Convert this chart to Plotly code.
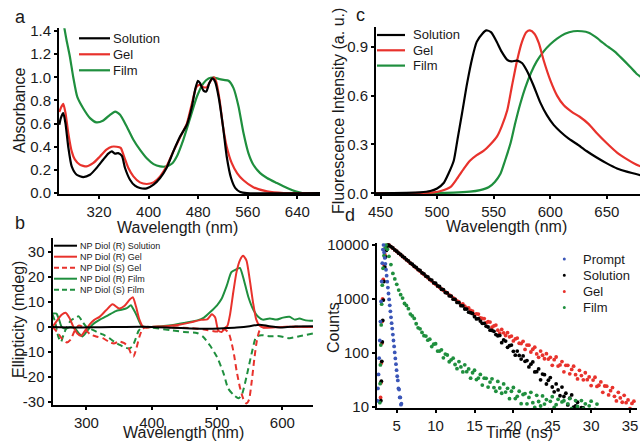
import plotly.graph_objects as go

FONT = "Liberation Sans, Arial, Helvetica, sans-serif"
W, H = 640, 441
BLACK = "#000000"
RED = "#e8322c"
GREEN = "#1f8f3e"
BLUE = "#3b56b8"
TXT = "#1a1a1a"

# ---------------- Panel a : absorbance ----------------
abs_names = ["Solution", "Gel", "Film"]
abs_sol_nm = [256, 258.6, 262.4, 266, 270.4, 276, 284, 294.7, 305.5, 316, 327, 335, 340.5, 346, 351, 357, 362, 370, 378, 386,
              397, 408, 418.6, 429, 440, 451, 461.7, 470, 475, 479.5, 483, 488.6, 493, 498, 503, 507.5, 513, 520, 526, 533,
              540, 548, 558.6, 677]
abs_sol = [0.59, 0.65, 0.69, 0.60, 0.40, 0.23, 0.158, 0.138, 0.158, 0.216, 0.29, 0.34, 0.36, 0.34, 0.345, 0.32, 0.216, 0.115, 0.063, 0.043,
           0.04, 0.072, 0.13, 0.216, 0.36, 0.49, 0.59, 0.75, 0.89, 0.97, 0.95, 0.885, 0.877, 0.95, 0.99, 0.96, 0.83, 0.575, 0.316, 0.13,
           0.043, 0.009, 0.0, 0.0]
abs_gel_nm = [256, 259.7, 262.4, 266, 270.4, 276, 281, 289, 300, 311, 321.6, 332, 340.5, 348.6, 355, 360.4, 367.4, 375.5, 386, 397,
              408, 418.6, 429, 440, 451, 461.7, 470, 477, 482, 488.6, 494, 499.4, 505, 509, 514.5, 520, 526, 534, 543, 553,
              569, 591, 618, 677]
abs_gel = [0.70, 0.75, 0.77, 0.69, 0.52, 0.36, 0.29, 0.245, 0.23, 0.26, 0.316, 0.374, 0.40, 0.40, 0.39, 0.316, 0.216, 0.144, 0.092, 0.078,
           0.092, 0.144, 0.23, 0.36, 0.483, 0.60, 0.776, 0.914, 0.934, 0.914, 0.914, 0.963, 1.0, 0.963, 0.805, 0.575, 0.40, 0.26, 0.17, 0.11,
           0.05, 0.014, 0.0, 0.0]
abs_film_nm = [264, 267.7, 273, 278.5, 285, 294.7, 305.5, 316, 327, 337.8, 346, 354, 364.7, 375.5, 386, 397, 408, 418.6, 429, 437.4,
               445.5, 456, 467, 478, 488.6, 496.7, 505, 513, 521, 529, 537, 545, 553, 561, 569, 580, 591, 607, 623.5, 637,
               648, 677]
abs_film = [1.43, 1.32, 1.18, 1.0, 0.83, 0.73, 0.647, 0.61, 0.627, 0.676, 0.704, 0.676, 0.575, 0.46, 0.374, 0.30, 0.25, 0.23, 0.23, 0.253,
            0.316, 0.46, 0.647, 0.834, 0.95, 0.99, 0.998, 0.986, 0.977, 0.97, 0.906, 0.75, 0.52, 0.345, 0.244, 0.172, 0.13, 0.086, 0.043, 0.014,
            0.0, 0.0]
abs_xticks = [320, 400, 480, 560, 640]
abs_yticks = [0.0, 0.2, 0.4, 0.6, 0.8, 1.0, 1.2, 1.4]

# ---------------- Panel b : circular dichroism ----------------
cd_names = ["NP Diol (R) Solution", "NP Diol (R) Gel", "NP Diol (S) Gel", "NP Diol (R) Film", "NP Diol (S) Film"]
cd_sol_nm = [248, 280, 320, 360, 400, 430, 460, 490, 510, 530, 550, 565, 580, 600, 620, 647]
cd_sol = [0.0, -0.2, -0.1, 0.0, 0.0, -0.3, -0.6, -0.7, -0.5, -0.2, 0.3, 0.9, 0.3, -0.2, 0.2, 0.3]
cd_rgel_nm = [248, 255, 262, 268, 274, 280, 286, 292, 298, 305, 312, 320, 330, 340, 350, 358, 366, 371, 376, 381,
              386, 392, 400, 420, 440, 460, 475, 485, 492, 497, 502, 507, 512, 516, 520, 525, 530, 535, 540, 545,
              550, 555, 560, 565, 572, 600, 647]
cd_rgel = [0.0, 2.5, 4.8, 5.6, 3.5, 0.0, -2.6, -3.5, -1.5, 1.0, 2.8, 4.0, 6.6, 9.0, 7.3, 8.3, 10.8, 11.8, 8.0, 3.0,
           0.3, -0.3, 0.0, 0.3, 0.8, 1.8, 2.8, 3.0, 5.0, 3.8, -1.5, -2.0, -0.5, 0.5, 5.0, 14.0, 22.0, 26.5, 28.3, 26.5,
           19.0, 10.0, 3.0, 0.5, -0.3, 0.0, 0.0]
cd_sgel_nm = [248, 255, 262, 270, 276, 282, 288, 294, 300, 306, 315, 325, 335, 342, 350, 358, 364, 368, 372, 376,
              381, 386, 392, 420, 460, 480, 500, 512, 518, 522, 526, 530, 535, 540, 545, 549, 553, 557, 561, 565,
              570, 600, 647]
cd_sgel = [0.0, -2.0, -4.5, -6.2, -5.0, -1.5, 0.5, 0.0, -1.5, -3.0, -3.8, -4.5, -6.0, -6.6, -5.8, -6.5, -8.0, -10.5, -11.8, -9.0,
           -4.0, -0.8, 0.0, 0.0, -0.5, -1.0, -1.8, -1.0, -2.5, -6.0, -11.0, -17.5, -24.0, -28.5, -30.5, -29.0, -22.0, -13.0, -5.5, -1.5,
           -0.3, 0.0, 0.0]
cd_rfilm_nm = [248, 254, 258, 262, 268, 275, 282, 288, 294, 300, 306, 312, 320, 333, 345, 355, 362, 368, 372, 377,
               382, 386, 400, 430, 450, 470, 480, 490, 500, 507, 515, 522, 530, 535, 540, 548, 556, 563, 570, 581,
               591, 601, 611, 619, 626, 636, 647]
cd_rfilm = [5.3, 5.3, 3.0, 0.0, -0.7, 0.0, -0.5, -2.5, -3.8, -2.0, 0.0, 1.5, 2.8, 4.6, 6.3, 6.9, 7.5, 8.6, 7.0, 4.5,
            1.5, 0.0, 0.0, 0.7, 1.6, 2.6, 3.7, 6.0, 8.6, 11.2, 16.5, 21.8, 23.0, 23.5, 19.8, 11.9, 6.6, 4.0, 2.9, 3.3,
            2.9, 3.7, 4.0, 2.9, 3.3, 2.6, 2.4]
cd_sfilm_nm = [248, 252, 257, 261, 265, 270, 276, 282, 288, 294, 300, 308, 316, 325, 335, 343, 352, 360, 366, 371,
               375, 380, 386, 400, 429, 449, 469, 479, 489, 500, 510, 517, 525, 533, 538, 545, 553, 560, 568, 581,
               596, 611, 626, 647]
cd_sfilm = [5.0, 2.0, -4.0, -6.0, -3.0, 0.0, 2.5, 3.5, 4.2, 2.0, 0.0, -1.0, -2.0, -3.0, -4.5, -6.0, -7.3, -8.3, -8.6, -7.5,
            -5.0, -1.5, 0.0, -0.3, -1.3, -2.0, -2.4, -4.0, -7.3, -12.0, -18.5, -24.5, -27.0, -28.4, -27.0, -20.0, -10.6, -4.0, -3.3, -3.7,
            -3.7, -4.5, -3.7, -2.6]
cd_xticks = [300, 400, 500, 600]
cd_yticks = [-30, -20, -10, 0, 10, 20, 30]

# ---------------- Panel c : fluorescence ----------------
fl_names = ["Solution", "Gel", "Film"]
fl_sol_nm = [446, 485, 494, 500, 506, 510, 514.7, 518, 522, 526.5, 531, 535, 540, 543.5, 547.6, 552, 557, 562, 566, 570.5,
             575, 579, 585, 591, 597, 603, 609, 616, 623.5, 632, 641, 650, 659, 667.6, 675, 680]
fl_sol = [0.0, 0.006, 0.014, 0.03, 0.065, 0.12, 0.20, 0.33, 0.49, 0.675, 0.83, 0.93, 0.98, 1.0, 0.99, 0.94, 0.87, 0.82, 0.81, 0.815,
          0.80, 0.757, 0.665, 0.56, 0.48, 0.42, 0.378, 0.337, 0.303, 0.26, 0.22, 0.184, 0.153, 0.133, 0.12, 0.11]
fl_gel_nm = [446, 497, 504, 512, 517.6, 523.5, 529, 535, 541, 547, 553, 557, 562, 566, 570.5, 575, 579, 582, 586, 590,
             594, 600, 606, 612, 619, 626, 634, 641, 650, 659, 667.6, 675, 680]
fl_gel = [0.0, 0.006, 0.016, 0.04, 0.09, 0.15, 0.20, 0.235, 0.26, 0.30, 0.35, 0.41, 0.51, 0.654, 0.81, 0.93, 0.99, 1.0, 0.98, 0.92,
          0.82, 0.695, 0.60, 0.54, 0.50, 0.47, 0.425, 0.37, 0.307, 0.25, 0.21, 0.18, 0.165]
fl_film_nm = [446, 514.7, 529, 538, 545.5, 551, 556, 560, 565, 569, 573.5, 578, 583, 588, 594, 600, 606, 613, 620.5, 628,
              634, 640, 645.5, 651, 657, 663, 670.5, 676, 680]
fl_film = [0.0, 0.004, 0.01, 0.02, 0.037, 0.07, 0.12, 0.2, 0.31, 0.43, 0.55, 0.65, 0.74, 0.81, 0.87, 0.915, 0.95, 0.98, 0.995, 0.995,
           0.986, 0.96, 0.93, 0.90, 0.87, 0.83, 0.777, 0.736, 0.715]
fl_xticks = [450, 500, 550, 600, 650]
fl_yticks = [0.0, 0.3, 0.6, 0.9]

# ---------------- Panel d : fluorescence decay ----------------
decay_names = ["Prompt", "Solution", "Gel", "Film"]
t_grid = [4.0, 4.25, 4.5, 4.75, 5.0, 5.25, 5.5, 5.75, 6.0, 6.25, 6.5, 6.75, 7.0, 7.25, 7.5, 7.75, 8.0, 8.25, 8.5, 8.75,
          9.0, 9.25, 9.5, 9.75, 10.0, 10.25, 10.5, 10.75, 11.0, 11.25, 11.5, 11.75, 12.0, 12.25, 12.5, 12.75, 13.0, 13.25, 13.5, 13.75,
          14.0, 14.25, 14.5, 14.75, 15.0, 15.25, 15.5, 15.75, 16.0, 16.25, 16.5, 16.75, 17.0, 17.25, 17.5, 17.75, 18.0, 18.25, 18.5, 18.75,
          19.0, 19.25, 19.5, 19.75, 20.0, 20.25, 20.5, 20.75, 21.0, 21.25, 21.5, 21.75, 22.0, 22.25, 22.5, 22.75, 23.0, 23.25, 23.5, 23.75,
          24.0, 24.25, 24.5, 24.75, 25.0, 25.25, 25.5, 25.75, 26.0, 26.25, 26.5, 26.75, 27.0, 27.25, 27.5, 27.75, 28.0, 28.25, 28.5, 28.75,
          29.0, 29.25, 29.5, 29.75, 30.0, 30.25, 30.5, 30.75, 31.0, 31.25, 31.5, 31.75, 32.0, 32.25, 32.5, 32.75, 33.0, 33.25, 33.5, 33.75,
          34.0, 34.25, 34.5, 34.75, 35.0, 35.25, 35.5]
solution_counts = [9950, 9290, 8760, 8090, 7640, 7030, 6660, 6120, 5800, 5330, 5060, 4620, 4400, 4030, 3850, 3500, 3360, 3040, 2920, 2640,
                   2560, 2300, 2230, 1990, 1950, 1740, 1700, 1510, 1490, 1310, 1290, 1140, 1130, 990, 980, 860, 855, 750, 745, 650,
                   649, 568, 555, 537, 470, 427, 433, 389, 353, 353, 313, 302, 264, 261, 251, 219, 208, 211, 155, 174,
                   166, 127, 136, 140, 107, 91, 108, 90, 77, 88, 70, 72, 55, 62, 68, 44.5, 45, 50.5, 31.8, 40.5,
                   39.6, 26.6, 31.2, 34.9, 23.4, 19, 26.7, 20.6, 16.1, 23.3, 15.6, 17.9, 10.9, 14.5, 16.7, 9.9, 10.4, 12.2, 6.8, 9.7,
                   9.6]
gel_counts = [9990, 9300, 8710, 8080, 7570, 7020, 6580, 6100, 5720, 5300, 4970, 4600, 4320, 4000, 3755, 3475, 3262, 3020, 2835, 2625,
              2465, 2280, 2142, 1982, 1862, 1735, 1643, 1530, 1448, 1348, 1277, 1189, 1126, 1048, 994, 923, 876, 786, 806, 733,
              673, 681, 611, 595, 517, 530, 525, 447, 434, 433, 363, 378, 372, 299, 316, 328, 264, 232, 272, 236,
              210, 237, 199, 205, 167, 182, 188, 151, 149, 164, 116, 140, 139, 104, 117, 128, 96, 83, 108, 90.5,
              78, 97, 77, 83, 59, 75, 84, 57, 60, 69, 44.6, 59, 59, 41, 49.4, 56.9, 39.5, 33, 47.7, 38,
              31.7, 42.9, 31.9, 35.9, 24.9, 31.4, 35.4, 24, 25.2, 29, 18.6, 24.4, 24.2, 16.7, 20, 22.8, 15.7, 12.9, 18.6, 14.7,
              12.2, 16.4, 12, 13.5, 9.3, 11.6, 12.8]
film_counts = [6140, 4320, 2960, 2350, 1860, 1460, 1200, 1035, 822, 758, 660, 525, 485, 436, 347, 292, 279, 240, 209, 205,
               172, 180, 131, 145, 148, 108, 108, 114, 81, 95, 91.5, 68.6, 74.4, 80, 61, 51, 69, 55, 44.4, 60.3,
               44.9, 50.5, 34.1, 42.9, 47.8, 32.1, 34.2, 40, 25.4, 34, 33.9, 23.3, 28.8, 33.1, 22.8, 19.5, 29.7, 22.4, 17.9, 26.7,
               18.8, 22.1, 14.2, 19.5, 22.9, 14.3, 15.7, 19.5, 11.5, 17, 17.7, 11.4, 15, 18.6, 12, 9.8, 16.4, 12.6, 10.4, 16,
               11.3, 13.7, 8.9, 12.7, 15.5, 9.8, 11, 13.8, 8.2, 12.4, 13, 8.5, 11.4, 14.3, 9.3, 7.7, 13.1, 10.2, 8.4, 13.1,
               9.3, 11.4, 7.4, 10.5, 12.8, 8.1, 9, 11.3, 6.7]
# rising edges (before t = 4 ns)
solution_rise_t = [2.96, 3.02, 3.08, 3.14, 3.20, 3.28, 3.36, 3.46, 3.56, 3.66, 3.76, 3.86]
solution_rise = [13, 30, 70, 160, 400, 950, 2100, 3900, 6000, 7900, 9300, 10000]
gel_rise_t = [2.92, 2.97, 3.02, 3.07, 3.12, 3.18, 3.26, 3.36, 3.48, 3.62, 3.76, 3.90]
gel_rise = [15, 28, 65, 150, 380, 1000, 2300, 4300, 6600, 8500, 9600, 10000]
film_rise_t = [2.82, 2.86, 2.90, 2.95, 3.00, 3.06, 3.14, 3.24, 3.36, 3.50, 3.62, 3.80]
film_rise = [12, 27, 60, 140, 330, 800, 1800, 3700, 6300, 8800, 10000, 8300]
prompt_t = [2.50, 2.58, 2.66, 2.74, 2.82, 2.90, 2.98, 3.06, 3.14, 3.22, 3.30, 3.38, 3.46, 3.54, 3.62, 3.70, 3.78, 3.86, 3.94, 4.02,
            4.10, 4.18, 4.26, 4.34, 4.42, 4.50, 4.58, 4.66, 4.74, 4.82, 4.90, 4.98, 5.06, 5.14, 5.22, 5.30, 5.38, 5.46, 5.54, 5.60]
prompt_counts = [13, 22, 40, 80, 170, 380, 900, 2100, 4600, 8200, 10000, 7250, 5750, 4470, 3470, 2690, 2090, 1620, 1260, 980,
                 760, 590, 457, 355, 282, 219, 170, 132, 102, 79, 62, 48, 37, 31, 22, 21, 15, 15, 11, 11.5]
decay_xticks = [5, 10, 15, 20, 25, 30, 35]
decay_yticks = [10, 100, 1000, 10000]


def px(x):
    return x / W


def py(y):
    return 1 - y / H


def axis(domain, rng, tickvals, ticktext, anchor, **kw):
    d = dict(domain=domain, range=rng, anchor=anchor, showline=True, linecolor="black", linewidth=2,
             ticks="outside", ticklen=3, tickwidth=1.5, tickcolor="black", showgrid=False, zeroline=False,
             automargin=False, ticklabeloverflow="allow",
             tickvals=tickvals, ticktext=ticktext, tickfont=dict(family=FONT, size=15, color=TXT))
    d.update(kw)
    return d


fig = go.Figure()
LW = 2.2

# panel a
for nm, vals, name, col in [(abs_film_nm, abs_film, abs_names[2], GREEN),
                            (abs_gel_nm, abs_gel, abs_names[1], RED),
                            (abs_sol_nm, abs_sol, abs_names[0], BLACK)]:
    fig.add_trace(go.Scatter(x=nm, y=vals, name=name, mode="lines", xaxis="x", yaxis="y",
                             line=dict(color=col, width=LW, shape="spline", smoothing=0.6)))

# panel b
for nm, vals, name, col, dash in [(cd_sfilm_nm, cd_sfilm, cd_names[4], GREEN, "6px,4px"),
                                  (cd_rfilm_nm, cd_rfilm, cd_names[3], GREEN, "solid"),
                                  (cd_sgel_nm, cd_sgel, cd_names[2], RED, "6px,4px"),
                                  (cd_rgel_nm, cd_rgel, cd_names[1], RED, "solid"),
                                  (cd_sol_nm, cd_sol, cd_names[0], BLACK, "solid")]:
    fig.add_trace(go.Scatter(x=nm, y=vals, name=name, mode="lines", xaxis="x2", yaxis="y2",
                             line=dict(color=col, width=2, dash=dash, shape="spline", smoothing=0.6)))

# panel c
for nm, vals, name, col in [(fl_film_nm, fl_film, fl_names[2], GREEN),
                            (fl_gel_nm, fl_gel, fl_names[1], RED),
                            (fl_sol_nm, fl_sol, fl_names[0], BLACK)]:
    fig.add_trace(go.Scatter(x=nm, y=vals, name=name, mode="lines", xaxis="x3", yaxis="y3",
                             line=dict(color=col, width=LW, shape="spline", smoothing=0.6)))

# panel d
MS = 3.8
decay_series = [
    (gel_rise_t + t_grid[:len(gel_counts)], gel_rise + gel_counts, decay_names[2], RED),
    (solution_rise_t + t_grid[:len(solution_counts)], solution_rise + solution_counts, decay_names[1], BLACK),
    (film_rise_t + t_grid[:len(film_counts)], film_rise + film_counts, decay_names[3], GREEN),
    (prompt_t, prompt_counts, decay_names[0], BLUE),
]
for tt, cc, name, col in decay_series:
    fig.add_trace(go.Scatter(x=tt, y=cc, name=name, mode="markers", xaxis="x4", yaxis="y4",
                             marker=dict(color=col, size=MS, line=dict(width=0))))

layout = dict(
    width=W, height=H, margin=dict(l=0, r=0, t=0, b=0, autoexpand=False),
    paper_bgcolor="white", plot_bgcolor="white", showlegend=False,
    font=dict(family=FONT, color=TXT),
    xaxis=axis([px(59), px(320)], [255.5, 676.5], abs_xticks, [str(v) for v in abs_xticks], "y"),
    yaxis=axis([py(194.3), py(28.3)], [-0.011, 1.423], abs_yticks, ["%.1f" % v for v in abs_yticks], "x"),
    xaxis2=axis([px(52.5), px(313)], [248, 647], cd_xticks, [str(v) for v in cd_xticks], "y2"),
    yaxis2=axis([py(405), py(238)], [-31.1, 35.4], cd_yticks, [str(v) for v in cd_yticks], "x2"),
    xaxis3=axis([px(376), px(640)], [446, 679.3], fl_xticks, [str(v) for v in fl_xticks], "y3"),
    yaxis3=axis([py(194.3), py(26.7)], [-0.006, 1.023], fl_yticks, ["%.1f" % v for v in fl_yticks], "x3"),
    xaxis4=axis([px(377), px(637)], [2.46, 35.9], decay_xticks, [str(v) for v in decay_xticks], "y4"),
    yaxis4=axis([py(408), py(243.3)], [0.98, 4.03], decay_yticks, [str(v) for v in decay_yticks], "x4", type="log"),
)
fig.update_layout(**layout)

ann = []
shapes = []


def text(x, y, s, size, angle=0, anchor="center"):
    ann.append(dict(x=px(x), y=py(y), xref="paper", yref="paper", text=s, showarrow=False,
                    xanchor=anchor, yanchor="middle", textangle=angle, borderpad=0,
                    font=dict(family=FONT, size=size, color=TXT)))


# panel letters
text(20, 17, "a", 18)
text(360, 15, "c", 18)
text(20, 223, "b", 18)
text(350, 215, "d", 18)
# axis titles
text(177, 227, "Wavelength (nm)", 16)
text(19, 111, "Absorbance", 16, -90)
text(18, 320, "Ellipticity (mdeg)", 16, -90)
text(183, 432, "Wavelength (nm)", 16)
text(338, 111, "Fluorescence Intensity (a. u.)", 16, -90)
text(506, 226, "Wavelength (nm)", 16)
text(333, 328, "Counts", 16, -90)
text(519, 432, "Time (ns)", 16)


def leg_line(x0, x1, y, col, dash="solid", width=2.2):
    shapes.append(dict(type="line", xref="paper", yref="paper", x0=px(x0), x1=px(x1), y0=py(y), y1=py(y),
                       line=dict(color=col, width=width, dash=dash)))


# legend a
for i, (name, col) in enumerate(zip(abs_names, [BLACK, RED, GREEN])):
    y = 38.3 + 16.0 * i
    leg_line(79, 110, y, col)
    text(112, y, name, 13, anchor="left")
# legend c
for i, (name, col) in enumerate(zip(fl_names, [BLACK, RED, GREEN])):
    y = 35 + 15.3 * i
    leg_line(377, 405, y, col)
    text(412, y, name, 13, anchor="left")
# legend b
for i, (name, col, dash) in enumerate(zip(cd_names, [BLACK, RED, RED, GREEN, GREEN],
                                          ["solid", "solid", "5px,3px", "solid", "5px,3px"])):
    y = 245.7 + 11 * i
    leg_line(54, 77, y, col, dash, 2)
    text(78.5, y, name, 9, anchor="left")
# legend d
for i, (name, col) in enumerate(zip(decay_names, [BLUE, BLACK, RED, GREEN])):
    y = 259 + 16.2 * i
    shapes.append(dict(type="circle", xref="paper", yref="paper", x0=px(562.8), x1=px(565.8),
                       y0=py(y + 1.5), y1=py(y - 1.5), fillcolor=col, line=dict(width=0)))
    text(581.5, y, name, 13, anchor="left")

fig.update_layout(annotations=ann, shapes=shapes)
fig.write_html("out.html", config={"displayModeBar": False},
               post_script="document.body.style.margin='0';document.body.style.overflow='hidden';")
